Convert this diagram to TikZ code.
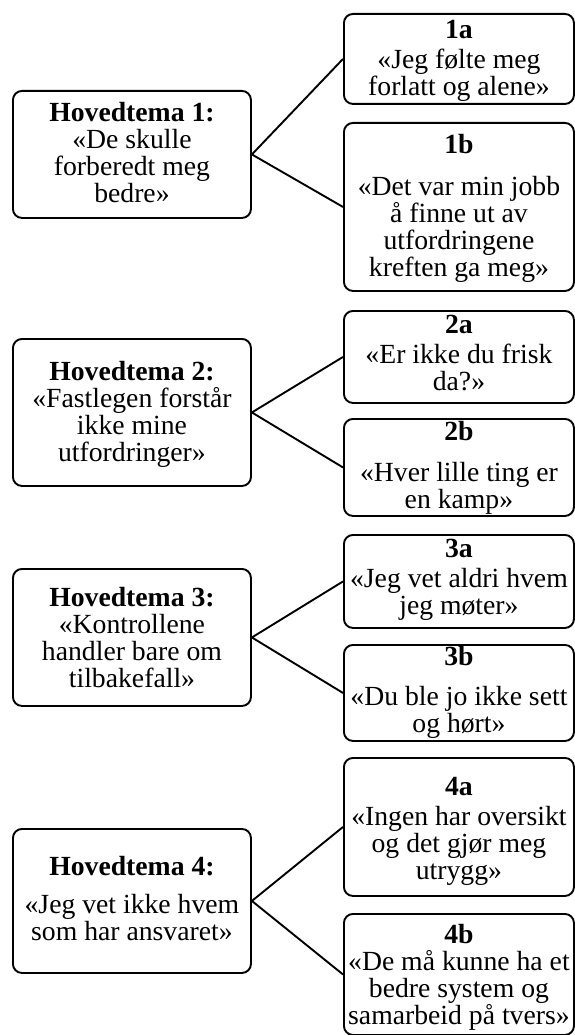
\documentclass[tikz,border=0pt]{standalone}
\usepackage{fontspec}
\setmainfont{Liberation Serif}
% #1 width, #2 height, #3 first-baseline offset from top, #4 text
\newcommand{\bt}[4]{\parbox[c][#2pt][t]{#1pt}{\centering\fontsize{27.7pt}{26.8pt}\selectfont\rule{0pt}{#3pt}#4}}
\begin{document}
\begin{tikzpicture}[x=1pt,y=-1pt,
  tbox/.style={draw, line width=1.9pt, rounded corners=9pt, inner sep=0pt, anchor=north west},
  link/.style={line width=1.9pt}]
\useasboundingbox (0,0) rectangle (574,1035);

% Main themes
\node[tbox] (h1) at (12,90)  {\bt{238}{127}{31}{\textbf{Hovedtema 1:}\\«De skulle\\forberedt meg\\bedre»}};
\node[tbox] (h2) at (12,338) {\bt{238}{147}{42}{\textbf{Hovedtema 2:}\\«Fastlegen forstår\\ikke mine\\utfordringer»}};
\node[tbox] (h3) at (12,568) {\bt{238}{137}{38}{\textbf{Hovedtema 3:}\\«Kontrollene\\handler bare om\\tilbakefall»}};
\node[tbox] (h4) at (12,828) {\bt{238}{144}{47}{\textbf{Hovedtema 4:}\\[11.2pt]«Jeg vet ikke hvem\\som har ansvaret»}};

% Sub themes
\node[tbox] (s1a) at (343,13)  {\bt{230}{90}{25}{\textbf{1a}\\[3.2pt]«Jeg følte meg\\forlatt og alene»}};
\node[tbox] (s1b) at (343,122) {\bt{230}{168}{31}{\textbf{1b}\\[15.2pt]«Det var min jobb\\å finne ut av\\utfordringene\\kreften ga meg»}};
\node[tbox] (s2a) at (343,310) {\bt{230}{92}{23}{\textbf{2a}\\[3.2pt]«Er ikke du frisk\\da?»}};
\node[tbox] (s2b) at (343,418) {\bt{230}{97}{22}{\textbf{2b}\\[14.2pt]«Hver lille ting er\\en kamp»}};
\node[tbox] (s3a) at (343,534) {\bt{230}{93}{23}{\textbf{3a}\\[3.2pt]«Jeg vet aldri hvem\\jeg møter»}};
\node[tbox] (s3b) at (343,644) {\bt{230}{96}{21}{\textbf{3b}\\[13.2pt]«Du ble jo ikke sett\\og hørt»}};
\node[tbox] (s4a) at (343,757) {\bt{230}{138}{38}{\textbf{4a}\\[3.2pt]«Ingen har oversikt\\og det gjør meg\\utrygg»}};
\node[tbox] (s4b) at (343,913) {\bt{230}{121}{30}{\textbf{4b}\\«De må kunne ha et\\bedre system og\\samarbeid på tvers»}};

% Connectors
\draw[link] (s1a.west) -- (h1.east) -- (s1b.west);
\draw[link] (s2a.west) -- (h2.east) -- (s2b.west);
\draw[link] (s3a.west) -- (h3.east) -- (s3b.west);
\draw[link] (s4a.west) -- (h4.east) -- (s4b.west);
\end{tikzpicture}
\end{document}
